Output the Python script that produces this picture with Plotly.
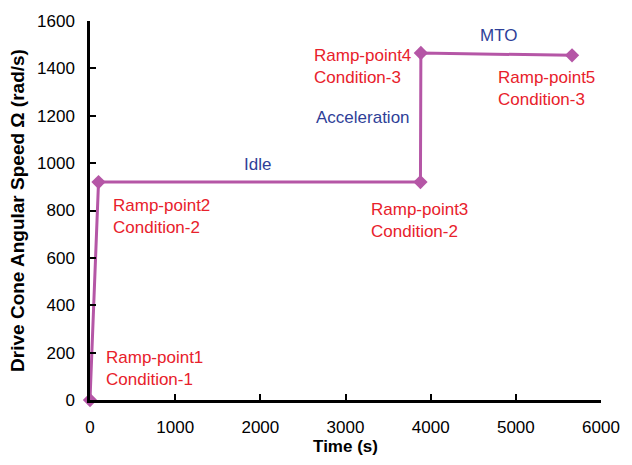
import plotly.graph_objects as go

# Ramp profile of the drive cone speed
time_s = [0, 100, 3880, 3885, 5660]
speed = [0, 920, 920, 1465, 1455]

x_ticks = [0, 1000, 2000, 3000, 4000, 5000, 6000]
y_ticks = [0, 200, 400, 600, 800, 1000, 1200, 1400, 1600]

# Ramp-point labels (red) and phase labels (blue)
ramp_labels = ["Ramp-point1<br>Condition-1", "Ramp-point2<br>Condition-2",
               "Ramp-point3<br>Condition-2", "Ramp-point4<br>Condition-3",
               "Ramp-point5<br>Condition-3"]
ramp_label_x = [164, 246, 3281, 2602, 4770]
ramp_label_y = [131, 775, 758, 1410, 1317]

phase_labels = ["Idle", "Acceleration", "MTO"]
phase_label_x = [1969, 3211, 4793]
phase_label_y = [996, 1192, 1537]

FONT = "Arial, Liberation Sans, sans-serif"
RED = "#e8212b"
BLUE = "#2f3f98"
LINE = "#b556a6"

fig = go.Figure()
fig.add_trace(go.Scatter(
    x=time_s, y=speed, mode="lines+markers",
    line=dict(color=LINE, width=3),
    marker=dict(symbol="diamond", size=11, color=LINE),
    cliponaxis=False, showlegend=False,
))

annotations = []
for t, x, y in zip(ramp_labels, ramp_label_x, ramp_label_y):
    annotations.append(dict(x=x, y=y, text=t, showarrow=False, xanchor="left",
                            yanchor="middle", align="left",
                            font=dict(family=FONT, size=17, color=RED)))
for t, x, y in zip(phase_labels, phase_label_x, phase_label_y):
    annotations.append(dict(x=x, y=y, text=t, showarrow=False, xanchor="center",
                            yanchor="middle",
                            font=dict(family=FONT, size=17, color=BLUE)))

axis_common = dict(
    showgrid=False, zeroline=False, showline=True, linecolor="black", linewidth=2.5,
    ticks="inside", ticklen=6, tickwidth=2, tickcolor="black",
    tickfont=dict(family=FONT, size=17, color="black"),
)

fig.update_layout(
    width=632, height=465,
    margin=dict(l=90, r=30, t=17, b=64),
    plot_bgcolor="white", paper_bgcolor="white",
    xaxis=dict(range=[0, 6000], tickvals=x_ticks, ticklabelstandoff=10,
               title=dict(text="<b>Time (s)</b>", standoff=4,
                          font=dict(family=FONT, size=17, color="black")),
               **axis_common),
    yaxis=dict(range=[0, 1600], tickvals=y_ticks, ticklabelstandoff=9,
               title=dict(text="<b>Drive Cone Angular Speed Ω (rad/s)</b>", standoff=8,
                          font=dict(family=FONT, size=19, color="black")),
               **axis_common),
    annotations=annotations,
)

fig.write_html("out.html")
